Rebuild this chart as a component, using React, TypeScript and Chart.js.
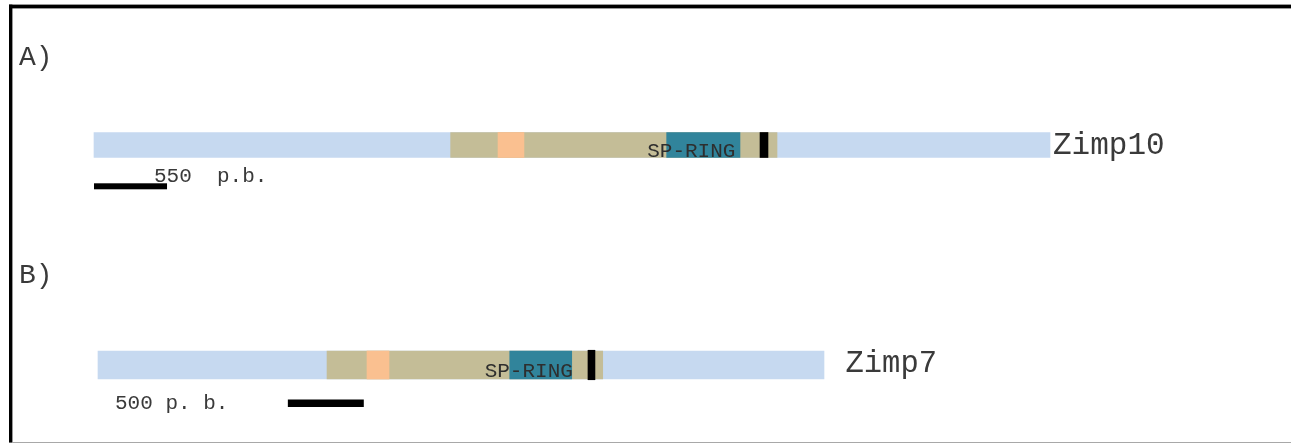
import React, { useEffect, useRef } from 'react';
import { Chart, registerables } from 'chart.js';

Chart.register(...registerables);

// Gene rows (base pairs measured from each gene's first base)
const genes = ['Zimp10', 'Zimp7'];
const geneLengthBp = [7200, 4780];
const conservedRegionBp: [number, number][] = [[2686, 5144], [1508, 3323]];
const orangeMotifBp: [number, number][] = [[3043, 3238], [1771, 1916]];
const spRingBp: [number, number][] = [[4313, 4865], [2711, 3119]];
const markerBp: [number, number][] = [[5016, 5076], [3226, 3272]];

// Scale bars
const scaleStartBp = [0, 1250];
const scaleLengthBp = [550, 500];
const scaleLabels = ['550  p.b.', '500 p. b.'];

const panelLabels = ['A)', 'B)'];
const domainLabel = 'SP-RING';

const FONT = "'Liberation Mono', 'Courier New', monospace";
const TEXT = '#3a3a3a';

// per-row drawing layout (pixels, relative to the row centre unless noted)
const rowStyle = [
  { thick: 25, markThick: 25, panelY: 65, nameGap: 3, nameSize: 31, nameDy: 9.2, ringDy: 11.8, barTop: 183.3, barH: 6, labelX: 154, labelY: 181.7 },
  { thick: 28, markThick: 29.5, panelY: 283.3, nameGap: 21.5, nameSize: 30.5, nameDy: 7.3, ringDy: 11.7, barTop: 399.5, barH: 7.5, labelX: 115, labelY: 408.5 },
];

const rowData = (g: number, v: [number, number]) => genes.map((_, i) => (i === g ? v : null));

const features = [
  { name: 'transcript', color: '#C6D9F0', order: 5, get: (g: number) => [0, geneLengthBp[g]] as [number, number], mark: false },
  { name: 'region', color: '#C4BD97', order: 4, get: (g: number) => conservedRegionBp[g], mark: false },
  { name: 'motif', color: '#FAC090', order: 3, get: (g: number) => orangeMotifBp[g], mark: false },
  { name: domainLabel, color: '#31849B', order: 2, get: (g: number) => spRingBp[g], mark: false },
  { name: 'marker', color: '#000000', order: 1, get: (g: number) => markerBp[g], mark: true },
];

const axisIds = ['xA', 'xB'];

const annotate = {
  id: 'annotate',
  afterDatasetsDraw(chart: any) {
    const { ctx } = chart;
    const yScale = chart.scales.y;
    const W = chart.width;
    ctx.save();

    // frame
    ctx.fillStyle = '#000';
    ctx.fillRect(9, 4.6, W - 9, 3.8);
    ctx.fillRect(9, 4.6, 3.4, 438);
    ctx.fillStyle = '#a8a8a8';
    ctx.fillRect(12, 442, W - 12, 1);

    genes.forEach((name, g) => {
      const xs = chart.scales[axisIds[g]];
      const st = rowStyle[g];
      const cy = yScale.getPixelForValue(g);

      // panel letter
      ctx.fillStyle = TEXT;
      ctx.textBaseline = 'alphabetic';
      ctx.textAlign = 'left';
      ctx.font = `28px ${FONT}`;
      ctx.fillText(panelLabels[g], 19, st.panelY);

      // gene name after the end of the transcript
      ctx.font = `${st.nameSize}px ${FONT}`;
      ctx.fillText(name, xs.getPixelForValue(geneLengthBp[g]) + st.nameGap, cy + st.nameDy);

      // domain label
      const [rs, re] = spRingBp[g];
      const mid = (xs.getPixelForValue(rs) + xs.getPixelForValue(re)) / 2 - 12;
      ctx.font = `21px ${FONT}`;
      ctx.textAlign = 'center';
      ctx.fillStyle = '#2e2e2e';
      ctx.fillText(domainLabel, mid, cy + st.ringDy);

      // scale bar
      const x0 = xs.getPixelForValue(scaleStartBp[g]);
      const x1 = xs.getPixelForValue(scaleStartBp[g] + scaleLengthBp[g]);
      ctx.fillStyle = '#000';
      ctx.fillRect(x0, st.barTop, x1 - x0, st.barH);
      ctx.fillStyle = TEXT;
      ctx.textAlign = 'left';
      ctx.font = `21px ${FONT}`;
      ctx.fillText(scaleLabels[g], st.labelX, st.labelY);
    });

    ctx.restore();
  },
};

export default function App() {
  const ref = useRef<HTMLCanvasElement>(null);

  useEffect(() => {
    if (!ref.current) return;
    const datasets: any[] = [];
    genes.forEach((_, g) => {
      features.forEach((f) => {
        datasets.push({
          label: `${genes[g]} ${f.name}`,
          data: rowData(g, f.get(g)),
          xAxisID: axisIds[g],
          yAxisID: 'y',
          backgroundColor: f.color,
          borderWidth: 0,
          borderSkipped: false,
          barThickness: f.mark ? rowStyle[g].markThick : rowStyle[g].thick,
          grouped: false,
          order: f.order,
          clip: false,
        });
      });
    });

    const chart = new Chart(ref.current, {
      type: 'bar',
      data: { labels: genes, datasets },
      options: {
        indexAxis: 'y',
        animation: false,
        responsive: false,
        events: [],
        layout: { padding: { left: 94, right: 241, top: 145, bottom: 79 } },
        plugins: {
          legend: { display: false },
          tooltip: { enabled: false },
          title: { display: false },
        },
        scales: {
          y: { type: 'category', offset: false, display: false },
          xA: { type: 'linear', axis: 'x', min: 0, max: 7200, display: false },
          xB: { type: 'linear', axis: 'x', min: -26.3, max: 6268, display: false },
        },
      } as any,
      plugins: [annotate],
    });
    return () => chart.destroy();
  }, []);

  return (
    <div style={{ position: 'fixed', left: 0, top: 0, width: 1291, height: 444, background: '#fff' }}>
      <canvas ref={ref} width={1291} height={444} style={{ display: 'block' }} />
    </div>
  );
}
